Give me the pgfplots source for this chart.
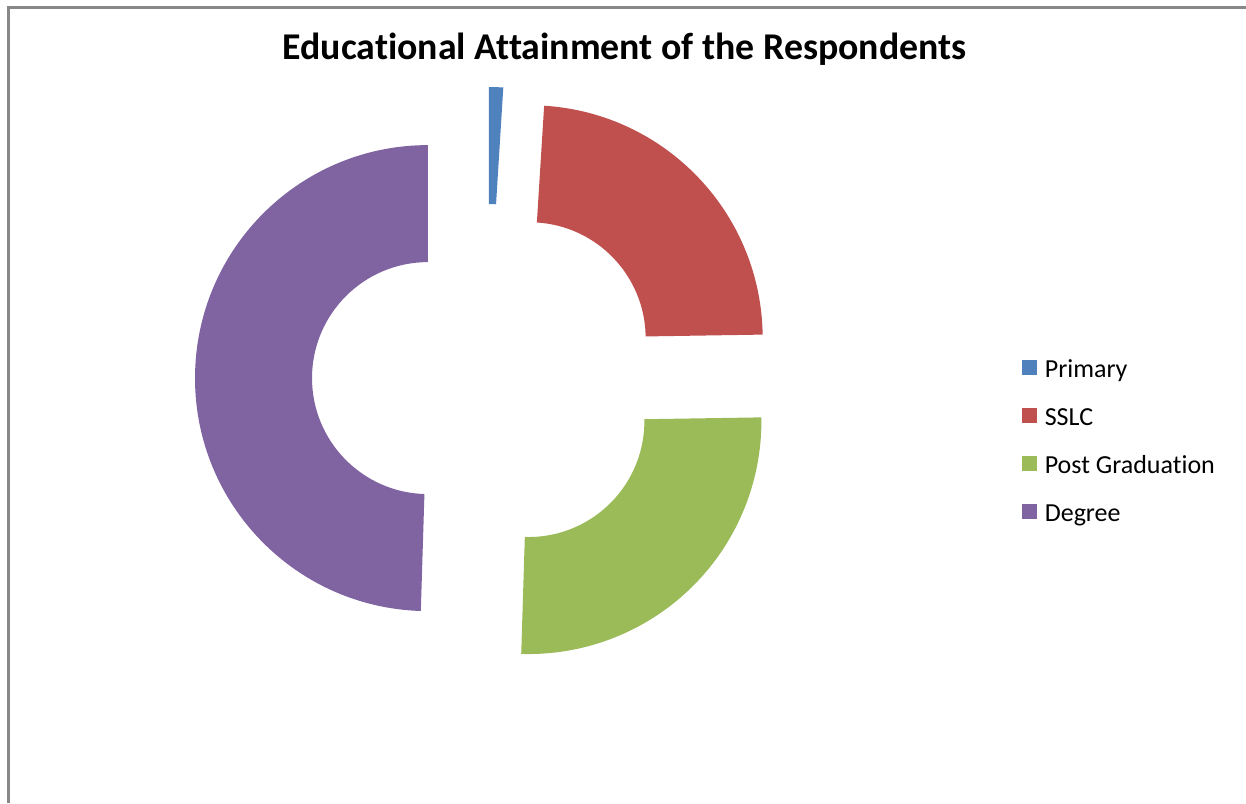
\documentclass[border=0pt]{standalone}
\usepackage{pgfplots}
\pgfplotsset{compat=1.18}
\usepackage{pgfplotstable}
\usepackage{fontspec}
\setmainfont{Carlito}[Ligatures=NoCommon]
\usetikzlibrary{calc}

\definecolor{cPrimary}{HTML}{4F81BD}
\definecolor{cSSLC}{HTML}{C0504D}
\definecolor{cPG}{HTML}{9BBB59}
\definecolor{cDegree}{HTML}{8064A2}
\definecolor{frame}{HTML}{888888}

\pgfplotstableread{
label value
Primary 1
SSLC 24
PostGraduation 26
Degree 50
}\edudata

\begin{document}%
\begin{tikzpicture}
\pgfplotstablegetelem{0}{value}\of\edudata\let\vA\pgfplotsretval
\pgfplotstablegetelem{1}{value}\of\edudata\let\vB\pgfplotsretval
\pgfplotstablegetelem{2}{value}\of\edudata\let\vC\pgfplotsretval
\pgfplotstablegetelem{3}{value}\of\edudata\let\vD\pgfplotsretval
\pgfmathsetmacro\tot{\vA+\vB+\vC+\vD}
\pgfmathsetmacro\aA{90}
\pgfmathsetmacro\bA{\aA-360*(\vA/\tot)}
\pgfmathsetmacro\bB{\bA-360*(\vB/\tot)}
\pgfmathsetmacro\bC{\bB-360*(\vC/\tot)}
\pgfmathsetmacro\bD{\bC-360*(\vD/\tot)}
% exploded centres (image pixel units, y downwards)
\def\Cx{487}\def\Cy{379}\def\dd{59}
\pgfmathsetmacro\cxA{\Cx+\dd*cos((\aA+\bA)/2)}\pgfmathsetmacro\cyA{\Cy-\dd*sin((\aA+\bA)/2)}
\pgfmathsetmacro\cxB{\Cx+\dd*cos((\bA+\bB)/2)}\pgfmathsetmacro\cyB{\Cy-\dd*sin((\bA+\bB)/2)}
\pgfmathsetmacro\cxC{\Cx+\dd*cos((\bB+\bC)/2)}\pgfmathsetmacro\cyC{\Cy-\dd*sin((\bB+\bC)/2)}
\pgfmathsetmacro\cxD{\Cx+\dd*cos((\bC+\bD)/2)}\pgfmathsetmacro\cyD{\Cy-\dd*sin((\bC+\bD)/2)}
\def\Ro{116.5pt}\def\Ri{58pt}
\begin{axis}[
  width=623pt, height=401.5pt, scale only axis,
  xmin=0, xmax=1246, ymin=0, ymax=803, y dir=reverse,
  hide axis, clip=false,
  legend cell align=left,
  legend style={draw=none, fill=none, at={(axis cs:1022,359)}, anchor=north west,
    inner sep=0pt, outer sep=0pt, row sep=12pt,
    font=\fontsize{13}{15}\selectfont,
    nodes={inner sep=0pt, text height=9pt, text depth=3pt},
    /tikz/every odd column/.style={column sep=4pt}},
]
\draw[frame, line width=1.5pt] (axis cs:8,803) -- (axis cs:8,7.5) -- (axis cs:1246,7.5);
\node[font=\bfseries\fontsize{18.9}{22}\selectfont, anchor=base, inner sep=0pt] at (axis cs:624.5,59) {Educational Attainment of the Respondents};

\fill[cPrimary] ($(axis cs:\cxA,\cyA)+(\aA:\Ro)$) arc[start angle=\aA, end angle=\bA, radius=\Ro] -- ($(axis cs:\cxA,\cyA)+(\bA:\Ri)$) arc[start angle=\bA, end angle=\aA, radius=\Ri] -- cycle;
\fill[cSSLC] ($(axis cs:\cxB,\cyB)+(\bA:\Ro)$) arc[start angle=\bA, end angle=\bB, radius=\Ro] -- ($(axis cs:\cxB,\cyB)+(\bB:\Ri)$) arc[start angle=\bB, end angle=\bA, radius=\Ri] -- cycle;
\fill[cPG] ($(axis cs:\cxC,\cyC)+(\bB:\Ro)$) arc[start angle=\bB, end angle=\bC, radius=\Ro] -- ($(axis cs:\cxC,\cyC)+(\bC:\Ri)$) arc[start angle=\bC, end angle=\bB, radius=\Ri] -- cycle;
\fill[cDegree] ($(axis cs:\cxD,\cyD)+(\bC:\Ro)$) arc[start angle=\bC, end angle=\bD, radius=\Ro] -- ($(axis cs:\cxD,\cyD)+(\bD:\Ri)$) arc[start angle=\bD, end angle=\bC, radius=\Ri] -- cycle;

\addlegendimage{legend image code/.code={\fill[cPrimary] (0pt,-1.5pt) rectangle (7pt,5.5pt);}}
\addlegendimage{legend image code/.code={\fill[cSSLC] (0pt,-1.5pt) rectangle (7pt,5.5pt);}}
\addlegendimage{legend image code/.code={\fill[cPG] (0pt,-1.5pt) rectangle (7pt,5.5pt);}}
\addlegendimage{legend image code/.code={\fill[cDegree] (0pt,-1.5pt) rectangle (7pt,5.5pt);}}
\legend{Primary, SSLC, Post Graduation, Degree}
\end{axis}
\pgfresetboundingbox
\path[use as bounding box] (current axis.south west) rectangle (current axis.north east);
\end{tikzpicture}%
\end{document}
